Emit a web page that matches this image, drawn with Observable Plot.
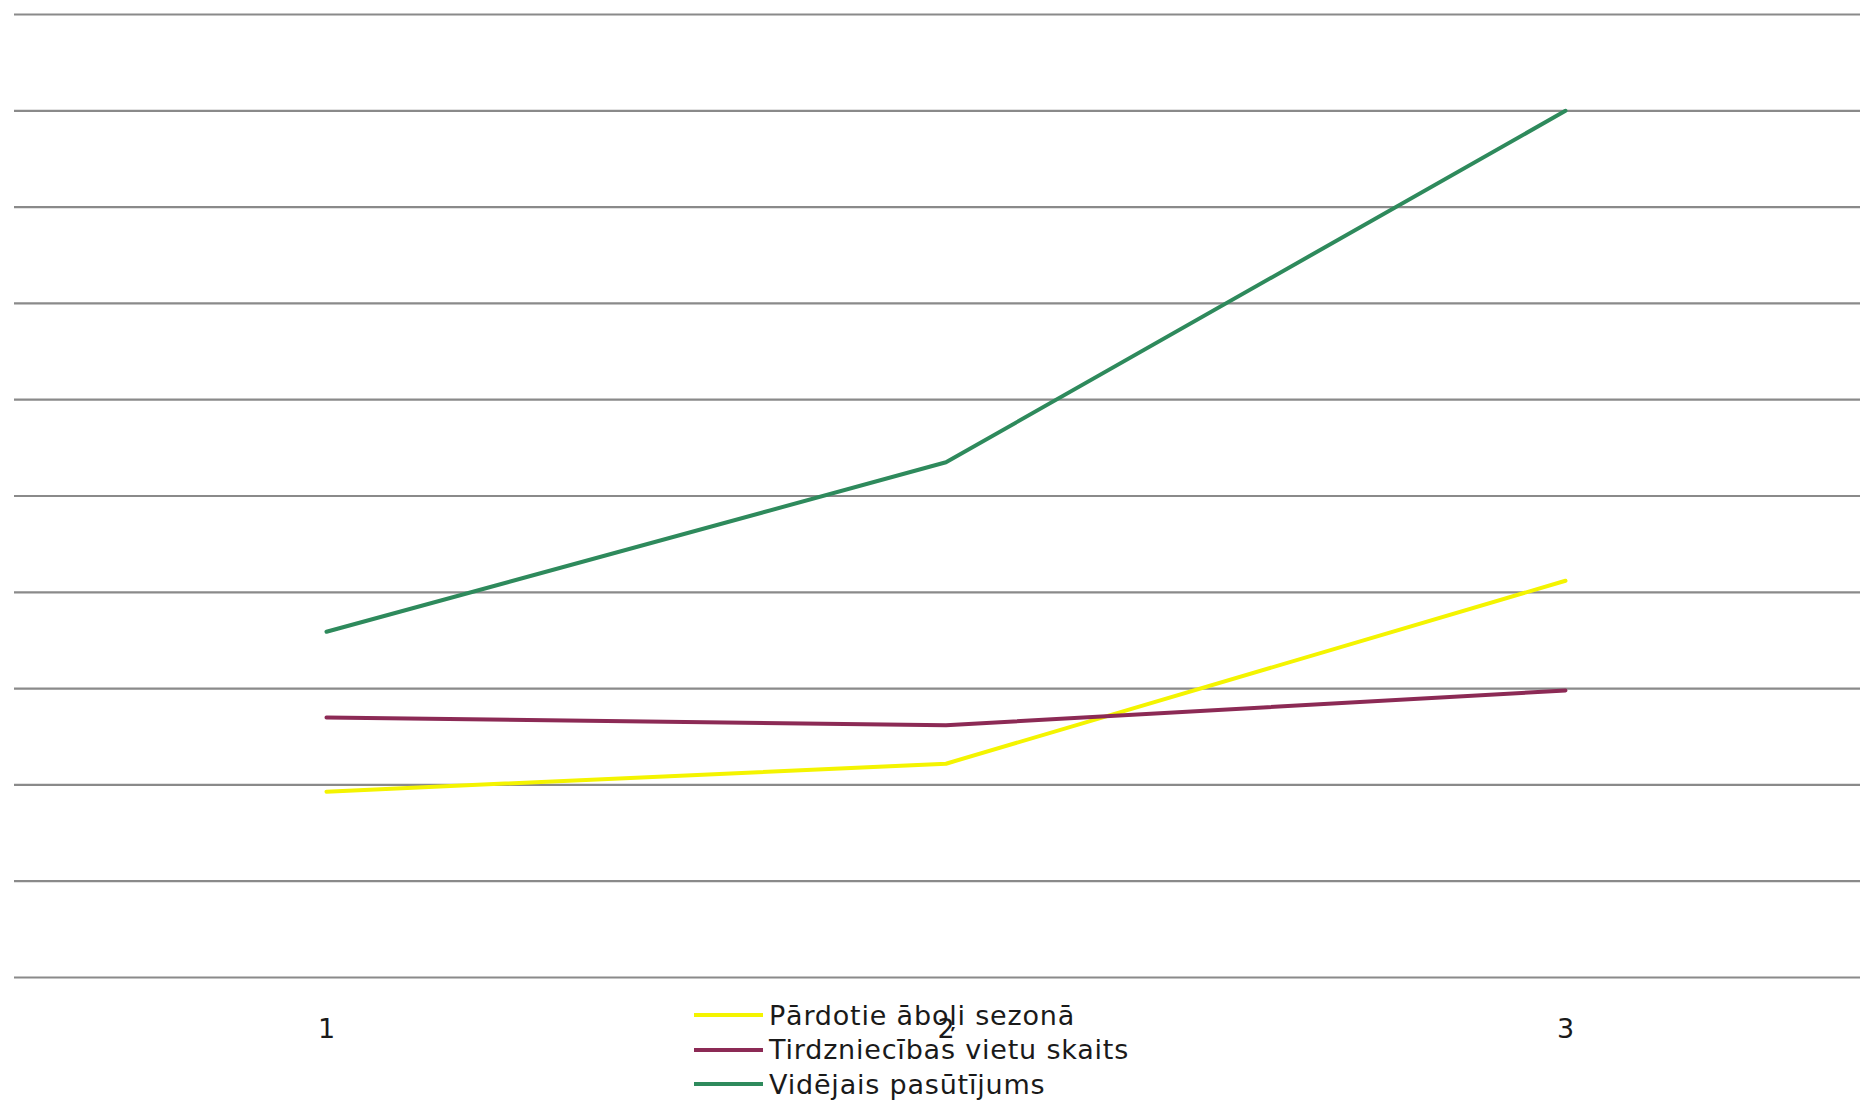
<!DOCTYPE html>
<html>
<head>
<meta charset="utf-8">
<script src="https://cdn.jsdelivr.net/npm/d3@7"></script>
<script src="https://cdn.jsdelivr.net/npm/@observablehq/plot@0.6"></script>
<style>
  html, body { margin: 0; padding: 0; background: #fff; }
  #wrap { position: relative; width: 1860px; height: 1103px; overflow: hidden; }
  #legend { position: absolute; left: 694px; top: 998px; font-family: "DejaVu Sans", sans-serif; font-size: 27px; color: #1a1a1a; letter-spacing: 0.8px; }
  .row { display: flex; align-items: center; height: 34.5px; white-space: nowrap; }
  .sw { width: 69px; height: 4px; margin-right: 6px; }
</style>
</head>
<body>
<div id="wrap"></div>
<script>
// Data
const categories = [1, 2, 3];
const seriesNames = ["Pārdotie āboļi sezonā", "Tirdzniecības vietu skaits", "Vidējais pasūtījums"];
const pardotieAboli = [1.93, 2.22, 4.12];
const tirdzniecibasVietas = [2.70, 2.62, 2.98];
const videjaisPasutijums = [3.59, 5.35, 9.0];
const gridValues = [0, 1, 2, 3, 4, 5, 6, 7, 8, 9, 10];
const colors = ["#f4f400", "#8c2a55", "#2e8a5c"];

const valuesBySeries = [pardotieAboli, tirdzniecibasVietas, videjaisPasutijums];
const rows = [];
seriesNames.forEach((s, i) => categories.forEach((c, j) => rows.push({series: s, cat: c, value: valuesBySeries[i][j]})));

const chart = Plot.plot({
  width: 1860,
  height: 1103,
  marginLeft: 14,
  marginRight: 0,
  marginTop: 14,
  marginBottom: 126,
  style: {fontFamily: "DejaVu Sans, sans-serif", fontSize: "27px", color: "#1a1a1a", background: "#fff"},
  x: {type: "linear", domain: [0.4964, 3.4762], ticks: categories, tickFormat: d => String(d), tickSize: 0, tickPadding: 41, label: null},
  y: {domain: [0, 10], axis: null},
  color: {domain: seriesNames, range: colors},
  marks: [
    Plot.ruleY(gridValues, {stroke: "#8a8a8a", strokeWidth: 2.2}),
    Plot.axisX({ticks: categories, tickFormat: d => String(d), tickSize: 0, tickPadding: 41, label: null, fontSize: 27}),
    Plot.line(rows, {x: "cat", y: "value", z: "series", stroke: "series", strokeWidth: 4, curve: "linear"})
  ]
});
document.getElementById("wrap").appendChild(chart);

const legend = document.createElement("div");
legend.id = "legend";
seriesNames.forEach((s, i) => {
  const r = document.createElement("div");
  r.className = "row";
  const sw = document.createElement("div");
  sw.className = "sw";
  sw.style.background = colors[i];
  const t = document.createElement("span");
  t.textContent = s;
  r.appendChild(sw); r.appendChild(t);
  legend.appendChild(r);
});
document.getElementById("wrap").appendChild(legend);
</script>
</body>
</html>
